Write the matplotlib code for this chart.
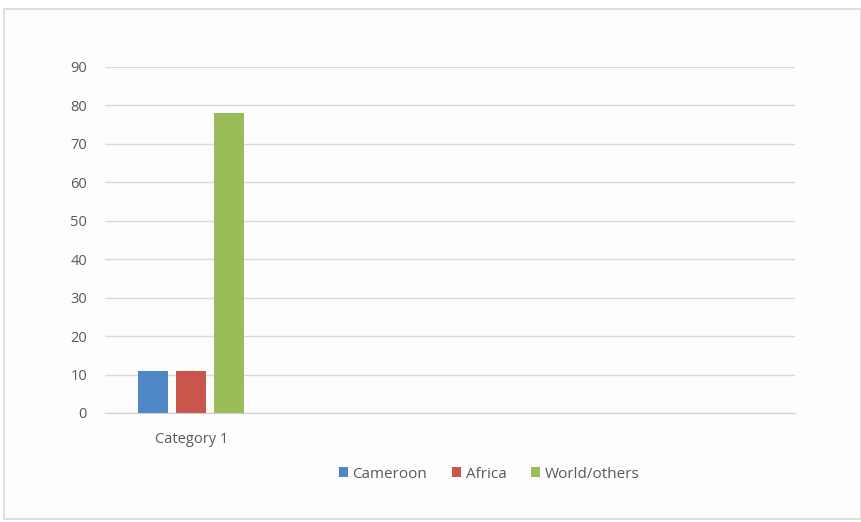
import matplotlib.pyplot as plt
import numpy as np
from matplotlib.patches import Rectangle

plt.rcParams["font.family"] = ["Open Sans", "DejaVu Sans"]

categories = ["Category 1", "", "", ""]
series = ["Cameroon", "Africa", "World/others"]
cameroon = [11, None, None, None]
africa = [11, None, None, None]
world = [78, None, None, None]
colors = ["#4f86c6", "#c9554d", "#9bbd59"]

W, H = 861, 522
fig = plt.figure(figsize=(W / 100, H / 100), dpi=100)
fig.patch.set_facecolor("white")

# light frame around the chart area
fig.patches.append(Rectangle((4 / W, 3 / H), (W - 4) / W, (H - 12) / H,
                             transform=fig.transFigure, fill=True,
                             facecolor="#fdfdfd", edgecolor="#d9d9d9", lw=1.2,
                             zorder=-10))

ax = fig.add_axes([105 / W, (H - 413) / H, 690 / W, 346 / H])
ax.set_facecolor("none")

x = np.arange(len(categories))
width = 0.174
step = 0.22
for i, (name, vals) in enumerate(zip(series, [cameroon, africa, world])):
    v = [np.nan if a is None else a for a in vals]
    ax.bar(x + (i - 1) * step, v, width, color=colors[i], label=name, zorder=3)

ax.set_xlim(-0.5, len(categories) - 0.5)
ax.set_ylim(0, 90)
ax.set_yticks(range(0, 91, 10))
ax.set_xticks(x)
ax.set_xticklabels(categories)
ax.grid(axis="y", color="#d9d9d9", lw=1, zorder=0)
for s in ["top", "right", "left"]:
    ax.spines[s].set_visible(False)
ax.spines["bottom"].set_color("#d0d0d0")
ax.spines["bottom"].set_zorder(4)
ax.tick_params(axis="both", length=0, colors="#595959", labelsize=10.5)
ax.tick_params(axis="y", pad=13)
ax.tick_params(axis="x", pad=14)

fig.legend(loc="center", bbox_to_anchor=(489 / W, (H - 474) / H), ncol=3,
           frameon=False, fontsize=11, handlelength=0.6, handleheight=0.6,
           handletextpad=0.3, columnspacing=1.6, labelcolor="#595959")

fig.savefig("out.png", dpi=100)
